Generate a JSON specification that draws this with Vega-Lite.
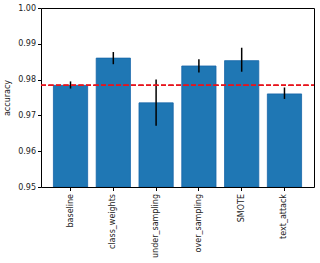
{
  "$schema": "https://vega.github.io/schema/vega-lite/v6.json",
  "width": 273,
  "height": 179,
  "autosize": {"type": "none"},
  "padding": {"left": 41, "top": 8, "right": 6, "bottom": 76},
  "background": "white",
  "config": {
    "font": "DejaVu Sans",
    "view": {"stroke": "black", "strokeWidth": 1},
    "axis": {"grid": false, "domain": false, "tickColor": "black", "labelColor": "#222222", "labelFontSize": 8, "titleFontSize": 8, "titleFontWeight": "normal", "titleColor": "#222222", "tickSize": 3.5},
    "axisY": {"title": "accuracy", "values": [0.95, 0.96, 0.97, 0.98, 0.99, 1.0], "format": ".2f", "titlePadding": 6, "labelPadding": 2, "labelOverlap": false, "labelFlush": false, "labelBound": false}
  },
  "data": {
    "values": [
      {"method": "baseline", "acc": 0.9784, "lo": 0.9775, "hi": 0.9795},
      {"method": "class_weights", "acc": 0.9860, "lo": 0.9843, "hi": 0.9877},
      {"method": "under_sampling", "acc": 0.9735, "lo": 0.9671, "hi": 0.9800},
      {"method": "over_sampling", "acc": 0.9838, "lo": 0.9820, "hi": 0.9857},
      {"method": "SMOTE", "acc": 0.9853, "lo": 0.9822, "hi": 0.9889},
      {"method": "text_attack", "acc": 0.9760, "lo": 0.9746, "hi": 0.9778}
    ]
  },
  "encoding": {
    "x": {
      "field": "method", "type": "nominal", "sort": null,
      "scale": {"paddingInner": 0.2, "paddingOuter": 0.29},
      "axis": {"title": null, "labelAngle": -90, "labelPadding": 3}
    }
  },
  "layer": [
    {
      "mark": {"type": "bar", "color": "#1f77b4", "stroke": "#1565a8", "strokeWidth": 0.8, "clip": true},
      "encoding": {
        "y": {
          "field": "acc", "type": "quantitative",
          "scale": {"domain": [0.95, 1.0], "nice": false, "zero": false},
          "title": "accuracy"
        },
        "y2": {"datum": 0.95}
      }
    },
    {
      "mark": {"type": "rule", "color": "black", "strokeWidth": 1.5},
      "encoding": {
        "y": {"field": "lo", "type": "quantitative", "title": "accuracy"},
        "y2": {"field": "hi"}
      }
    },
    {
      "mark": {"type": "rule", "color": "#e8141c", "strokeWidth": 1.3, "strokeDash": [5, 2.5]},
      "encoding": {
        "y": {"datum": 0.9784, "title": "accuracy"},
        "x": {"value": 0},
        "x2": {"value": 273}
      }
    }
  ]
}
